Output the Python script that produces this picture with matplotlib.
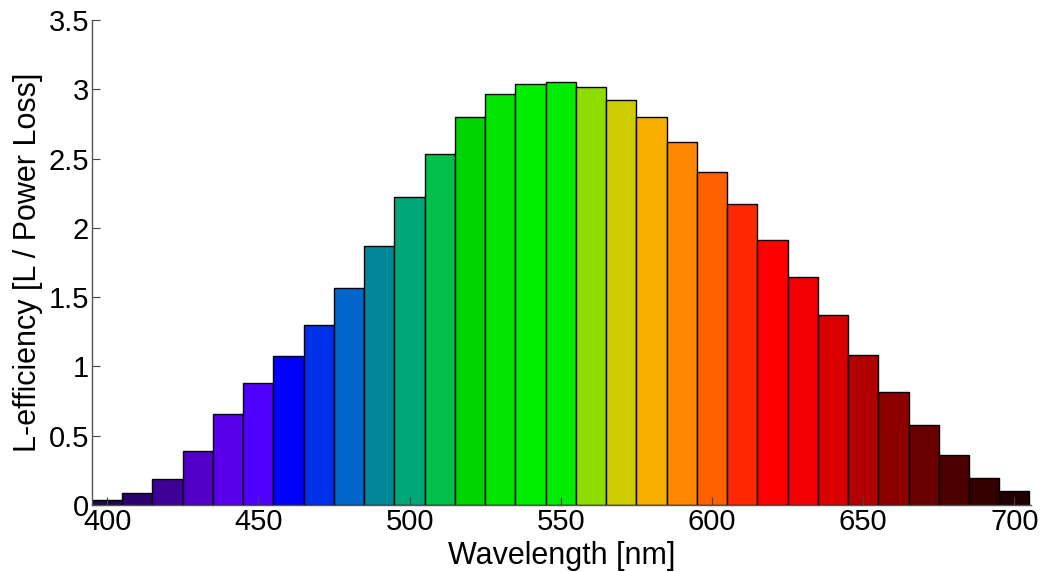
import matplotlib
matplotlib.use("Agg")
import matplotlib.pyplot as plt
from matplotlib.ticker import FuncFormatter

wavelengths = [400, 410, 420, 430, 440, 450, 460, 470, 480, 490, 500,
               510, 520, 530, 540, 550, 560, 570, 580, 590, 600,
               610, 620, 630, 640, 650, 660, 670, 680, 690, 700]
efficiency = [0.036, 0.084, 0.188, 0.392, 0.659, 0.878, 1.077, 1.296, 1.563, 1.871, 2.224,
              2.535, 2.797, 2.968, 3.037, 3.052, 3.018, 2.922, 2.797, 2.621, 2.405,
              2.172, 1.912, 1.647, 1.371, 1.084, 0.815, 0.575, 0.363, 0.195, 0.099]
bar_colors = ["#200850", "#2d0070", "#3f0097", "#5200c8", "#5a00ea", "#5000ff",
              "#0000ff", "#0030e8", "#0066cc", "#008899", "#00a878",
              "#00c04a", "#00d400", "#00e400", "#00ee00", "#00ec00",
              "#8ddd00", "#cccc00", "#f7ae00", "#ff8800", "#ff6000",
              "#ff2800", "#ff0000", "#f20000", "#d80000", "#b00000",
              "#8c0000", "#680000", "#4c0000", "#340000", "#200000"]
x_ticks = [400, 450, 500, 550, 600, 650, 700]
y_ticks = [0, 0.5, 1, 1.5, 2, 2.5, 3, 3.5]

plt.rcParams['font.family'] = ['Liberation Sans', 'DejaVu Sans']

fig = plt.figure(figsize=(10.43, 5.72), dpi=100)
ax = fig.add_axes([92 / 1043, 67 / 572, 939 / 1043, 485 / 572])

ax.bar(wavelengths, efficiency, width=10, color=bar_colors,
       edgecolor="black", linewidth=1.0)

ax.set_xlim(395, 705.5)
ax.set_ylim(0, 3.5)
ax.set_xticks(x_ticks)
ax.set_yticks(y_ticks)
ax.yaxis.set_major_formatter(FuncFormatter(lambda v, p: f"{v:g}"))
ax.tick_params(direction="in", length=6, width=0.8, color="#444444",
               labelsize=21, pad=2)

for s in ["top", "right"]:
    ax.spines[s].set_visible(False)
for s in ["left", "bottom"]:
    ax.spines[s].set_color("#555555")
    ax.spines[s].set_linewidth(1.0)

ax.set_xlabel("Wavelength [nm]", fontsize=22, labelpad=4)
ax.set_ylabel("L-efficiency [L / Power Loss]", fontsize=22, labelpad=4)

fig.savefig("out.png", dpi=100)
